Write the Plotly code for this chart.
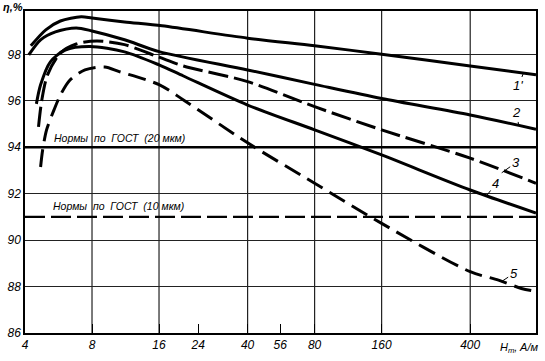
import math
import plotly.graph_objects as go

# ---- data ----
x1 = [4.25, 4.96, 5.77, 7.15, 8.0, 11.2, 16.5, 40, 80, 160, 400, 790]
y1 = [98.37, 99.06, 99.44, 99.62, 99.57, 99.40, 99.23, 98.70, 98.37, 98.01, 97.50, 97.12]

x2 = [4.16, 4.7, 5.48, 6.8, 8.0, 11.2, 16.0, 40, 80, 160, 400, 790]
y2 = [97.98, 98.63, 98.97, 99.14, 99.01, 98.63, 98.12, 97.33, 96.71, 96.10, 95.39, 94.78]

x3 = [4.6, 4.76, 5.05, 5.77, 6.8, 8.4, 11.2, 16.0, 20.6, 40, 80, 160, 400, 790]
y3 = [94.88, 96.04, 97.12, 98.06, 98.45, 98.58, 98.42, 97.88, 97.50, 96.83, 95.75, 94.75, 93.53, 92.45]

x4 = [4.5, 4.7, 5.2, 6.06, 7.84, 11.2, 16.0, 20.6, 40, 80, 160, 400, 790]
y4 = [95.87, 96.69, 97.68, 98.19, 98.34, 98.11, 97.55, 97.07, 95.82, 94.75, 93.67, 92.16, 91.17]

x5 = [4.7, 4.8, 5.0, 5.4, 5.77, 6.37, 7.44, 9.13, 10.6, 16.0, 20.6, 40, 80, 160, 400, 536, 679, 790]
y5 = [93.15, 93.88, 94.75, 95.61, 96.25, 96.90, 97.33, 97.46, 97.26, 96.70, 96.04, 94.19, 92.45, 90.72, 88.64, 88.28, 87.92, 87.80]

norm_20 = 94.0
norm_10 = 91.0
x_full = [4, 790]

x_ticks = [4, 8, 16, 24, 40, 56, 80, 160, 400]
x_grid = [8, 16, 40, 80, 160, 400]
y_ticks = [86, 88, 90, 92, 94, 96, 98]

FONT = "Liberation Sans"
L = math.log10

fig = go.Figure()

def curve(x, y, dash):
    fig.add_trace(go.Scatter(
        x=x, y=y, mode="lines",
        line=dict(color="black", width=3, dash=dash, shape="spline", smoothing=0.8),
        showlegend=False, hoverinfo="skip"))

curve(x1, y1, "solid")
curve(x2, y2, "solid")
curve(x3, y3, "20px,6px")
curve(x4, y4, "solid")
curve(x5, y5, "18px,8px")

fig.add_trace(go.Scatter(x=x_full, y=[norm_20, norm_20], mode="lines",
                         line=dict(color="black", width=2.5), showlegend=False, hoverinfo="skip"))
fig.add_trace(go.Scatter(x=x_full, y=[norm_10, norm_10], mode="lines",
                         line=dict(color="black", width=2.2, dash="20px,6px"),
                         showlegend=False, hoverinfo="skip"))

for gx in x_grid:
    fig.add_shape(type="line", xref="x", yref="paper", x0=gx, x1=gx, y0=0, y1=1,
                  line=dict(color="#222", width=1.2), layer="below")

tfont = dict(family=FONT, size=12, color="black")

fig.add_annotation(x=L(5.3), y=94.42, xref="x", yref="y", text="<i>Нормы  по  ГОСТ  (20 мкм)</i>",
                   showarrow=False, xanchor="left", font=dict(family=FONT, size=10.5, color="black"))
fig.add_annotation(x=L(5.24), y=91.45, xref="x", yref="y", text="<i>Нормы  по  ГОСТ  (10 мкм)</i>",
                   showarrow=False, xanchor="left", font=dict(family=FONT, size=10.5, color="black"))

labels = [("1'", 694, 97.2, -5, 13), ("2", 661, 94.92, -2, -13), ("3", 554, 92.9, 14, -10),
          ("4", 474, 91.91, 9, -12), ("5", 554, 88.22, 12, -8)]
for t, lx, ly, ax, ay in labels:
    fig.add_annotation(x=L(lx), y=ly, xref="x", yref="y", text="<i>%s</i>" % t,
                       showarrow=True, arrowhead=0, arrowwidth=1, arrowcolor="black",
                       ax=ax, ay=ay, standoff=0, font=dict(family=FONT, size=13, color="black"))

fig.add_annotation(x=0, y=1, xref="paper", yref="paper", text="<i><b>η,%</b></i>", showarrow=False,
                   xanchor="right", yanchor="middle", yshift=4, font=dict(family=FONT, size=11, color="black"))
fig.add_annotation(x=1, y=0, xref="paper", yref="paper", text="<i>H<sub>m</sub>, A/м</i>", showarrow=False,
                   xanchor="right", yanchor="top", yshift=-6, xshift=4, font=dict(family=FONT, size=11, color="black"))

fig.update_xaxes(type="log", range=[L(4), L(790)], tickvals=x_ticks,
                 ticktext=["<i>%d</i>" % v for v in x_ticks], ticks="inside", ticklen=9,
                 tickcolor="black", tickwidth=1.2,
                 showgrid=False, zeroline=False, showline=True, linecolor="black", linewidth=1.5,
                 mirror=True, tickfont=tfont)
fig.update_yaxes(range=[86, 99.87], tickvals=y_ticks, ticktext=["<i>%d</i>" % v for v in y_ticks],
                 showgrid=True, gridcolor="#222", gridwidth=1.2, zeroline=False,
                 showline=True, linecolor="black", linewidth=1.5, mirror=True, ticks="",
                 tickfont=tfont)

fig.update_layout(width=545, height=361, margin=dict(l=19, r=7, t=11, b=28),
                  plot_bgcolor="white", paper_bgcolor="white")

fig.write_html("out.html")
